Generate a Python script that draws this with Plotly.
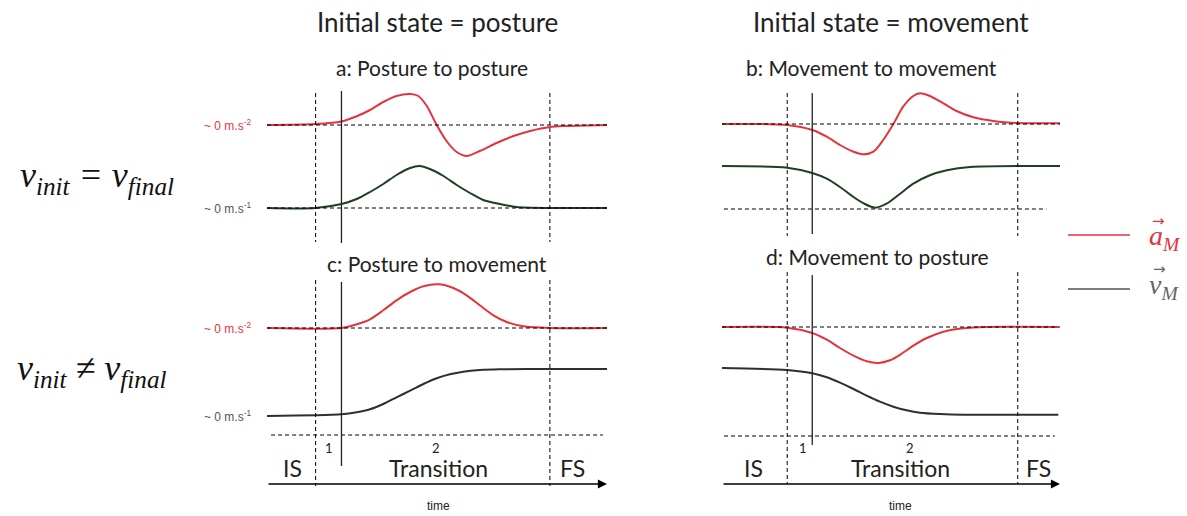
import plotly.graph_objects as go

W, H = 1187, 516

# ---------------- data (time in arbitrary units 0-100, amplitudes in arbitrary units) -------------
# panel a : posture to posture
t_a_acc = [0, 14.3, 21.9, 26.4, 30.3, 34.2, 38.1, 42.1, 44.5, 47.0, 49.9, 52.8, 55.8, 58.7,
           62.6, 67.5, 72.5, 77.4, 83.2, 88.1, 100]
a_acc = [0, 1, 3.5, 8.7, 15, 23, 29, 31, 29, 19, 0, -16, -27, -31,
         -26, -18, -11, -6, -2, -1, 0]
t_a_vel = [0, 14.3, 21.9, 26.4, 30.3, 34.2, 38.1, 42.1, 44.8, 47.9, 51.9, 55.8, 59.7, 63.6,
           68.5, 73.4, 83.2, 100]
a_vel = [0, 0, 4, 9, 16, 24, 33, 40, 42, 39, 32, 23, 15, 8, 4, 1, 0, 0]

# panel b : movement to movement
t_b_acc = [0, 19.3, 26.7, 31.0, 34.9, 38.9, 42.1, 44.8, 47.7, 50.7, 53.6, 56.6, 58.6, 61.5,
           65.5, 69.4, 74.4, 80.3, 87.5, 100]
b_acc = [0, -1, -6, -12.7, -21, -27.7, -30.3, -27.7, -16, 0, 17.3, 28, 30.7, 28,
         20.7, 13, 6.7, 3, 1, 0.7]
t_b_vel = [0, 19.3, 26.7, 31.0, 34.9, 38.9, 42.1, 45.3, 48.7, 52.7, 56.6, 61.5, 66.5, 73.4, 100]
b_vel = [0, -1.7, -7, -12.7, -21, -31, -37.7, -41.7, -37.7, -27.7, -17.7, -9.3, -4.3, -1, 0]

# panel c : posture to movement
t_c_acc = [0, 21.9, 26.4, 30.3, 34.2, 38.1, 42.1, 46.0, 50.4, 54.8, 58.7, 62.6, 66.6, 70.5,
           75.4, 83.2, 100]
c_acc = [0, 0, 3.7, 8.7, 17.7, 27.7, 36, 41.7, 43.7, 40, 32.7, 22.7, 12.7, 6,
         1.7, 0, 0]
t_c_vel = [0, 21.9, 26.4, 30.3, 34.2, 38.1, 42.1, 46.0, 49.9, 53.8, 57.7, 62.6, 68.5, 83.2, 100]
c_vel = [0, 1.7, 3.7, 6.7, 12, 18.7, 25.3, 32, 37.7, 41.7, 44.3, 46, 46.7, 47, 47]

# panel d : movement to posture
t_d_acc = [0, 19.3, 26.7, 31.0, 34.9, 38.9, 42.8, 46.3, 49.7, 52.7, 56.6, 60.6, 65.5, 71.4,
           78.3, 99.5]
d_acc = [0, -0.7, -6, -12.7, -21, -28.7, -34.3, -36, -33.3, -27.7, -18.7, -11, -4.7, -1.3,
         0, 0]
t_d_vel = [0, 19.3, 26.7, 31.0, 34.9, 38.9, 42.8, 46.7, 50.7, 54.6, 58.6, 64.5, 71.4, 99.5]
d_vel = [0, -2, -5.3, -9.3, -14.7, -21, -27.7, -33.7, -38.7, -42.3, -44.7, -46, -46.7, -46.7]

# phase boundaries (IS end, phase-1 end, transition end)
left_bounds = [14.3, 21.9, 83.2]
right_bounds = [19.3, 26.7, 87.5]

phase_labels = ["IS", "1", "2", "Transition", "FS"]
left_label_t = [7.4, 18.2, 49.7, 50.3, 89.9]
right_label_t = [9.2, 24.0, 55.6, 52.7, 93.5]

col_titles = ["Initial state = posture", "Initial state = movement"]
panel_titles = ["a: Posture to posture", "b: Movement to movement",
                "c: Posture to movement", "d: Movement to posture"]

# ---------------- styles / layout -------------
RED = "#e3343c"
GREEN_A = "#1f3f22"
GREEN_C = "#28332b"
GREY_TXT = "#555555"
TXTFONT = "Lato"


def px(x):
    return x / W


def py(y):
    return 1 - y / H


fig = go.Figure()

fig.update_layout(
    width=W, height=H, margin=dict(l=0, r=0, t=0, b=0),
    paper_bgcolor="white", plot_bgcolor="rgba(0,0,0,0)", showlegend=False,
    xaxis=dict(domain=[px(267), px(607)], range=[0, 100], visible=False),
    xaxis2=dict(domain=[px(722), px(1060)], range=[0, 100], visible=False),
    yaxis=dict(domain=[py(245), py(85)], range=[-120, 40], visible=False),
    yaxis2=dict(domain=[py(245), py(85)], range=[-121, 39], visible=False, anchor="x2"),
    yaxis3=dict(domain=[py(470), py(270)], range=[-142, 58], visible=False),
    yaxis4=dict(domain=[py(470), py(270)], range=[-143, 57], visible=False, anchor="x2"),
)

panels = [
    # xaxis, yaxis, t_acc, acc, t_vel, vel, vel_offset, green, lower dashed (y, t0, t1)
    ("x", "y", t_a_acc, a_acc, t_a_vel, a_vel, -83, GREEN_A, (-83, 0, 100)),
    ("x2", "y2", t_b_acc, b_acc, t_b_vel, b_vel, -42, GREEN_A, (-85, -1.5, 96)),
    ("x", "y3", t_c_acc, c_acc, t_c_vel, c_vel, -88, GREEN_C, (-107, 1.2, 98.8)),
    ("x2", "y4", t_d_acc, d_acc, t_d_vel, d_vel, -41, GREEN_C, (-109, 0.6, 98.5)),
]

DASH = dict(color="black", width=1, dash="4px,3px")
shapes = []
for xa, ya, ta, acc, tv, vel, off, gcol, low in panels:
    shapes.append(dict(type="line", xref=xa, yref=ya, x0=0, x1=100, y0=0, y1=0, line=DASH))
    shapes.append(dict(type="line", xref=xa, yref=ya, x0=low[1], x1=low[2],
                       y0=low[0], y1=low[0], line=DASH))
    fig.add_trace(go.Scatter(x=ta, y=acc, xaxis=xa, yaxis=ya, mode="lines",
                             line=dict(color=RED, width=2, shape="spline", smoothing=0.8),
                             hoverinfo="skip"))
    fig.add_trace(go.Scatter(x=tv, y=[v + off for v in vel], xaxis=xa, yaxis=ya, mode="lines",
                             line=dict(color=gcol, width=2, shape="spline", smoothing=0.8),
                             hoverinfo="skip"))

# vertical phase lines
for xa, bounds, dash_segs, solid_segs in [
    ("x", left_bounds, [(93, 242), (280, 486)], [(91, 243), (282, 466)]),
    ("x2", right_bounds, [(93, 236), (272, 484)], [(93, 234), (275, 445)]),
]:
    for b in (bounds[0], bounds[2]):
        for y0, y1 in dash_segs:
            shapes.append(dict(type="line", xref=xa, yref="paper", x0=b, x1=b,
                               y0=py(y0), y1=py(y1), line=DASH))
    for y0, y1 in solid_segs:
        shapes.append(dict(type="line", xref=xa, yref="paper", x0=bounds[1], x1=bounds[1],
                           y0=py(y0), y1=py(y1), line=dict(color="#222222", width=1.3)))

# legend lines
shapes.append(dict(type="line", xref="paper", yref="paper", x0=px(1068), x1=px(1130),
                   y0=py(235), y1=py(235), line=dict(color=RED, width=1.3)))
shapes.append(dict(type="line", xref="paper", yref="paper", x0=px(1068), x1=px(1130),
                   y0=py(289), y1=py(289), line=dict(color="#555555", width=1.3)))

fig.update_layout(shapes=shapes)

ann = []


def text(x, y, s, size, color="#222222", family=TXTFONT, xref="paper", yref="paper",
         xanchor="center", italic=False):
    ann.append(dict(x=x, y=y, xref=xref, yref=yref, text=s, showarrow=False,
                    xanchor=xanchor, yanchor="middle",
                    font=dict(size=size, color=color, family=family,
                              style="italic" if italic else "normal")))


# column and panel titles
text(px(437), py(22), col_titles[0], 26)
text(px(891), py(22), col_titles[1], 26)
text(px(432), py(67), panel_titles[0], 21)
text(px(871), py(67), panel_titles[1], 21)
text(px(437), py(263), panel_titles[2], 21)
text(px(877), py(256), panel_titles[3], 21)

# phase labels
for xa, ts in [("x", left_label_t), ("x2", right_label_t)]:
    for lab, t in zip(phase_labels, ts):
        small = lab in ("1", "2")
        text(t, py(448) if small else py(468), lab, 13 if small else 23, xref=xa)
    text(ts[3], py(506), "time", 12, family="Liberation Sans", xref=xa)

# time axis arrows
for xa in ("x", "x2"):
    ann.append(dict(x=100, y=py(484), xref=xa, yref="paper", ax=0, ay=0,
                    axref=xa, ayref="pixel", showarrow=True, arrowhead=2,
                    arrowsize=1.3, arrowwidth=1.4, arrowcolor="black", text=""))

# zero labels
for ya, off, lab in [("y", 0, "~ 0 m.s<sup>-2</sup>"), ("y", -83, "~ 0 m.s<sup>-1</sup>"),
                     ("y3", 0, "~ 0 m.s<sup>-2</sup>"), ("y3", -88, "~ 0 m.s<sup>-1</sup>")]:
    col = RED if "-2" in lab else GREY_TXT
    text(px(253), off, lab, 12, color=col, family="Liberation Sans", yref=ya, xanchor="right")

# row labels
text(px(97), py(178), "v<sub>init</sub> = v<sub>final</sub>", 36, color="#111111",
     family="Liberation Serif", italic=True)
text(px(92), py(370), "v<sub>init</sub> \u2260 v<sub>final</sub>", 36, color="#111111",
     family="Liberation Serif", italic=True)

# legend labels (vector symbols)
text(px(1147), py(238), "a<sub>M</sub>", 28, color=RED, family="Liberation Serif",
     xanchor="left", italic=True)
text(px(1158), py(221), "\u2192", 15, color=RED, family="DejaVu Sans")
text(px(1147), py(286), "v<sub>M</sub>", 28, color="#666666", family="Liberation Serif",
     xanchor="left", italic=True)
text(px(1159), py(269), "\u2192", 15, color="#666666", family="DejaVu Sans")

fig.update_layout(annotations=ann)

fig.write_html("out.html", config={"displayModeBar": False, "staticPlot": True},
               post_script="document.body.style.margin='0px';"
                           "document.body.style.overflow='hidden';")
